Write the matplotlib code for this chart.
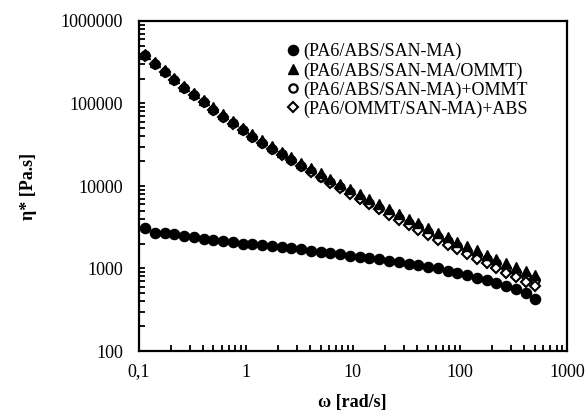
import numpy as np
import matplotlib
matplotlib.use("Agg")
import matplotlib.pyplot as plt
from matplotlib.ticker import LogLocator, FixedLocator, NullFormatter

plt.rcParams['font.family'] = ['Liberation Serif', 'DejaVu Serif']

# frekuensi sudut (rad/s)
omega = [0.115, 0.1418, 0.1749, 0.2158, 0.2661, 0.3282, 0.4048, 0.4993, 0.6159, 0.7596,
         0.9369, 1.156, 1.425, 1.758, 2.168, 2.674, 3.299, 4.069, 5.018, 6.19,
         7.635, 9.417, 11.61, 14.33, 17.67, 21.8, 26.88, 33.16, 40.9, 50.44,
         62.22, 76.74, 94.65, 116.7, 144.0, 177.6, 219.1, 270.2, 333.3, 411.1, 507.0]

# viskositas kompleks (Pa.s)
eta_blend = [3119, 2716, 2692, 2594, 2466, 2388, 2296, 2218, 2153, 2080,
             2009, 1959, 1919, 1875, 1807, 1758, 1710, 1644, 1585, 1528,
             1486, 1429, 1390, 1340, 1291, 1245, 1189, 1143, 1102, 1052,
             1005, 944, 891, 832, 776, 724, 676, 617, 562, 501, 427]

eta_blend_ommt = [401000, 318000, 254000, 204000, 165000, 134000, 109000, 89500, 73800, 61200,
                  51000, 42800, 36100, 30500, 26100, 22400, 19200, 16500, 14200, 12300,
                  10600, 9180, 7960, 6920, 6030, 5250, 4580, 4010, 3520, 3090,
                  2720, 2390, 2110, 1870, 1660, 1470, 1310, 1160, 1040, 927, 830]

eta_blend_plus_ommt = [383000, 303000, 242000, 194000, 156000, 126000, 103000, 84100, 69200, 57300,
                       47600, 39800, 33500, 28300, 24200, 20700, 17700, 15200, 13000, 11200,
                       9660, 8360, 7230, 6270, 5450, 4730, 4120, 3600, 3150, 2760,
                       2420, 2130, 1875, 1650, 1460, 1290, 1150, 1020, 908, 809, 723]

eta_ommt_plus_abs = [378000, 301000, 240000, 192000, 155000, 126000, 103000, 83900, 69000, 57100,
                     47400, 39600, 33300, 28100, 23900, 20400, 17400, 14900, 12800, 11000,
                     9420, 8110, 6980, 6030, 5210, 4510, 3910, 3390, 2940, 2570,
                     2240, 1950, 1710, 1490, 1310, 1150, 1010, 893, 787, 695, 615]

labels = ['(PA6/ABS/SAN-MA)', '(PA6/ABS/SAN-MA/OMMT)',
          '(PA6/ABS/SAN-MA)+OMMT', '(PA6/OMMT/SAN-MA)+ABS']

xticks = [0.1, 1, 10, 100, 1000]
xticklabels = ['0,1', '1', '10', '100', '1000']
yticks = [100, 1000, 10000, 100000, 1000000]

fig = plt.figure(figsize=(5.87, 4.11), dpi=100)
ax = fig.add_axes([138.5 / 587, 60 / 411, 428.5 / 587, 330 / 411])

ax.plot(omega, eta_blend, 'o', color='black', ms=7.3, label=labels[0], zorder=3)
ax.plot(omega, eta_blend_ommt, '^', color='black', ms=7.6, label=labels[1], zorder=4)
ax.plot(omega, eta_blend_plus_ommt, 'o', mfc='white', mec='black', mew=1.6, ms=6.0,
        label=labels[2], zorder=2)
ax.plot(omega, eta_ommt_plus_abs, 'D', mfc='white', mec='black', mew=1.5, ms=4.6,
        label=labels[3], zorder=2.5)

ax.set_xscale('log')
ax.set_yscale('log')
ax.set_xlim(0.1, 1000)
ax.set_ylim(100, 1000000)

ax.xaxis.set_major_locator(FixedLocator(xticks))
ax.set_xticklabels(xticklabels)
ax.yaxis.set_major_locator(FixedLocator(yticks))
ax.set_yticklabels([str(v) for v in yticks])
ax.xaxis.set_minor_locator(LogLocator(base=10, subs=np.arange(2, 10)))
ax.yaxis.set_minor_locator(LogLocator(base=10, subs=np.arange(2, 10)))
ax.xaxis.set_minor_formatter(NullFormatter())
ax.yaxis.set_minor_formatter(NullFormatter())

ax.tick_params(which='both', direction='in', top=False, right=False, width=1.3, labelsize=13)
ax.tick_params(which='major', length=4)
ax.tick_params(which='minor', length=4)
ax.tick_params(axis='x', pad=9)
ax.tick_params(axis='y', pad=11)

for s in ax.spines.values():
    s.set_linewidth(1.6)

ax.set_xlabel('ω [rad/s]', fontsize=13, fontweight='bold', labelpad=10)
ax.set_ylabel('η* [Pa.s]', fontsize=13, fontweight='bold', labelpad=17)

ax.legend(loc='upper left', bbox_to_anchor=(0.33, 0.955), frameon=False, fontsize=13,
          handlelength=0.6, handletextpad=0.3, labelspacing=0.1, borderaxespad=0)

fig.savefig('out.png', dpi=100)
